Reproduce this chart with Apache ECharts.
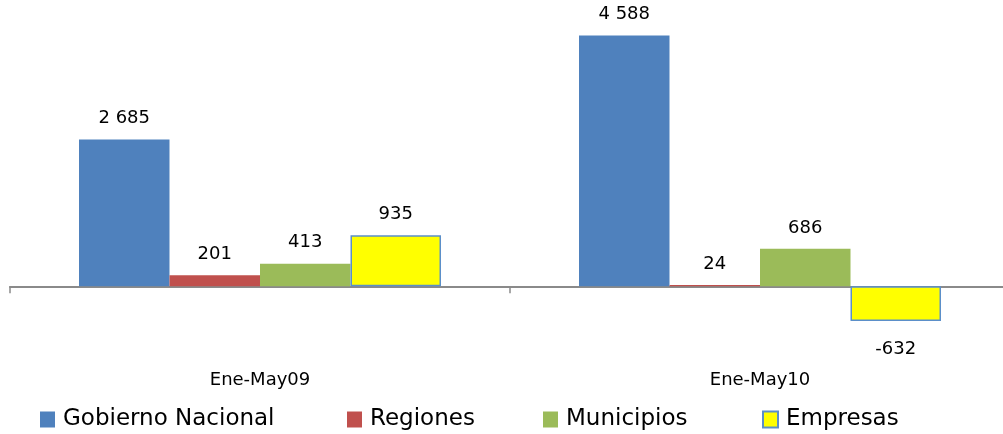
<!DOCTYPE html>
<html>
<head>
<meta charset="utf-8">
<script src="https://cdn.jsdelivr.net/npm/echarts@6/dist/echarts.min.js"></script>
<style>
  html, body { margin: 0; padding: 0; background: #fff; }
  #chart { width: 1003px; height: 434px; }
</style>
</head>
<body>
<div id="chart"></div>
<script>
// periods on the x axis
const periods = ["Ene-May09", "Ene-May10"];

// series values, one per period
const gobierno = [2685, 4588];
const regiones = [201, 24];
const municipios = [413, 686];
const empresas = [935, -632];

const seriesNames = ["Gobierno Nacional", "Regiones", "Municipios", "Empresas"];
const legendLeft = [40, 347, 543, 762];

const font = "DejaVu Sans";

// "2685" -> "2 685"
function fmt(v) {
  const s = String(Math.abs(v)).replace(/\B(?=(\d{3})+(?!\d))/g, " ");
  return (v < 0 ? "-" : "") + s;
}

function toData(values) {
  return values.map(v => {
    if (v < 0) {
      return { value: v, label: { position: "bottom", distance: 19 } };
    }
    return v;
  });
}

function makeSeries(name, values, color, border) {
  return {
    name: name,
    type: "bar",
    barGap: "0%",
    barCategoryGap: "27.6%",
    data: toData(values),
    itemStyle: border
      ? { color: color, borderColor: border, borderWidth: 1.5 }
      : { color: color },
    label: {
      show: true,
      position: "top",
      distance: 12,
      color: "#000",
      fontFamily: font,
      fontSize: 18,
      formatter: p => fmt(p.value)
    }
  };
}

const chart = echarts.init(document.getElementById("chart"));

const option = {
  animation: false,
  backgroundColor: "#fff",
  grid: { left: 10, width: 1000, top: 13, height: 328, containLabel: false, outerBoundsMode: "none" },
  legend: seriesNames.map((n, i) => ({
    data: [n],
    left: legendLeft[i],
    top: 408,
    padding: 0,
    icon: "rect",
    itemWidth: 15,
    itemHeight: 16,
    textStyle: { fontFamily: font, fontSize: 23, color: "#000", padding: [0, 0, 0, 3] }
  })),
  xAxis: {
    type: "category",
    data: periods,
    axisLine: { lineStyle: { color: "#8a8a8a", width: 2 } },
    axisTick: { show: true, length: 7, lineStyle: { color: "#8a8a8a", width: 1.5 } },
    axisLabel: { margin: 30, color: "#000", fontFamily: font, fontSize: 18 }
  },
  yAxis: {
    type: "value",
    min: -1000,
    max: 5000,
    show: false,
    splitLine: { show: false }
  },
  series: [
    makeSeries(seriesNames[0], gobierno, "#4F81BD"),
    makeSeries(seriesNames[1], regiones, "#C0504D"),
    makeSeries(seriesNames[2], municipios, "#9BBB59"),
    makeSeries(seriesNames[3], empresas, "#FFFF00", "#5B8FC9")
  ]
};

chart.setOption(option);
</script>
</body>
</html>
